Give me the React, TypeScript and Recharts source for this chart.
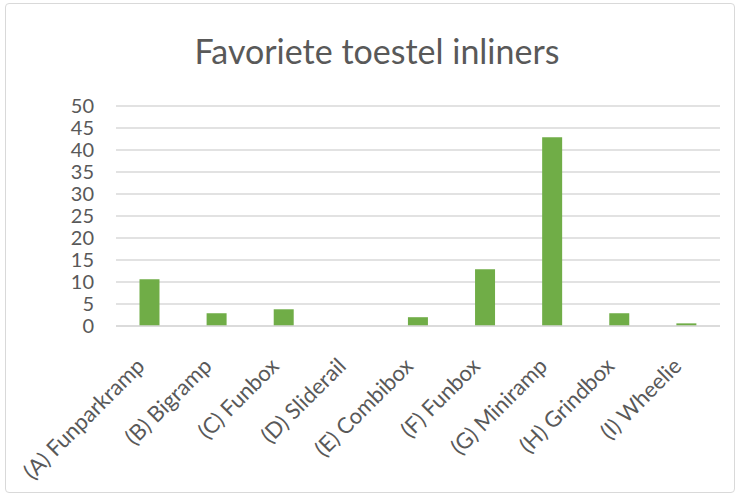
import React from "react";
import { BarChart, Bar, XAxis, YAxis, CartesianGrid } from "recharts";

const categories = [
  "(A) Funparkramp",
  "(B) Bigramp",
  "(C) Funbox",
  "(D) Sliderail",
  "(E) Combibox",
  "(F) Funbox",
  "(G) Miniramp",
  "(H) Grindbox",
  "(I) Wheelie",
];
const values = [10.6, 2.9, 3.8, 0, 2, 12.9, 42.9, 2.9, 0.6];
const yTicks = [0, 5, 10, 15, 20, 25, 30, 35, 40, 45, 50];

const data = categories.map((name, i) => ({ name, value: values[i] }));

const FONT = "Lato, 'Open Sans', sans-serif";
const TEXT = "#595959";
const GRID = "#d9d9d9";

// rotated category label, anchored at its end just under the axis
const AngledTick = (props: any) => {
  const { x, y, payload } = props;
  return (
    <text
      transform={`translate(${x - 9},${y + 28}) rotate(-45)`}
      textAnchor="end"
      dy="0.35em"
      fill={TEXT}
      fontSize={22}
      fontFamily={FONT}
    >
      {payload.value}
    </text>
  );
};

export default function App() {
  return (
    <div
      style={{
        position: "absolute",
        top: 0,
        left: 0,
        width: 740,
        height: 497,
        background: "#fff",
        fontFamily: FONT,
      }}
    >
      <div
        style={{
          position: "absolute",
          left: 5,
          top: 3,
          width: 730,
          height: 490,
          border: `1.5px solid ${GRID}`,
          borderRadius: 4,
          boxSizing: "border-box",
        }}
      />
      <div
        style={{
          position: "absolute",
          top: 30,
          left: 7,
          width: 740,
          textAlign: "center",
          fontSize: 34,
          color: TEXT,
        }}
      >
        Favoriete toestel inliners
      </div>
      <BarChart
        width={740}
        height={497}
        data={data}
        margin={{ top: 106, right: 20, bottom: 0, left: 0 }}
        barCategoryGap="35%"
        style={{ position: "absolute", top: 0, left: 0 }}
      >
        <CartesianGrid vertical={false} stroke={GRID} strokeWidth={1.5} />
        <XAxis
          dataKey="name"
          interval={0}
          height={171}
          tickLine={false}
          axisLine={{ stroke: GRID, strokeWidth: 1.5 }}
          tick={<AngledTick />}
        />
        <YAxis
          width={116}
          domain={[0, 50]}
          ticks={yTicks}
          interval={0}
          tickLine={false}
          axisLine={false}
          tick={{ fill: TEXT, fontSize: 20, fontFamily: FONT }}
          tickMargin={16}
        />
        <Bar dataKey="value" fill="#70ad47" isAnimationActive={false} />
      </BarChart>
    </div>
  );
}
